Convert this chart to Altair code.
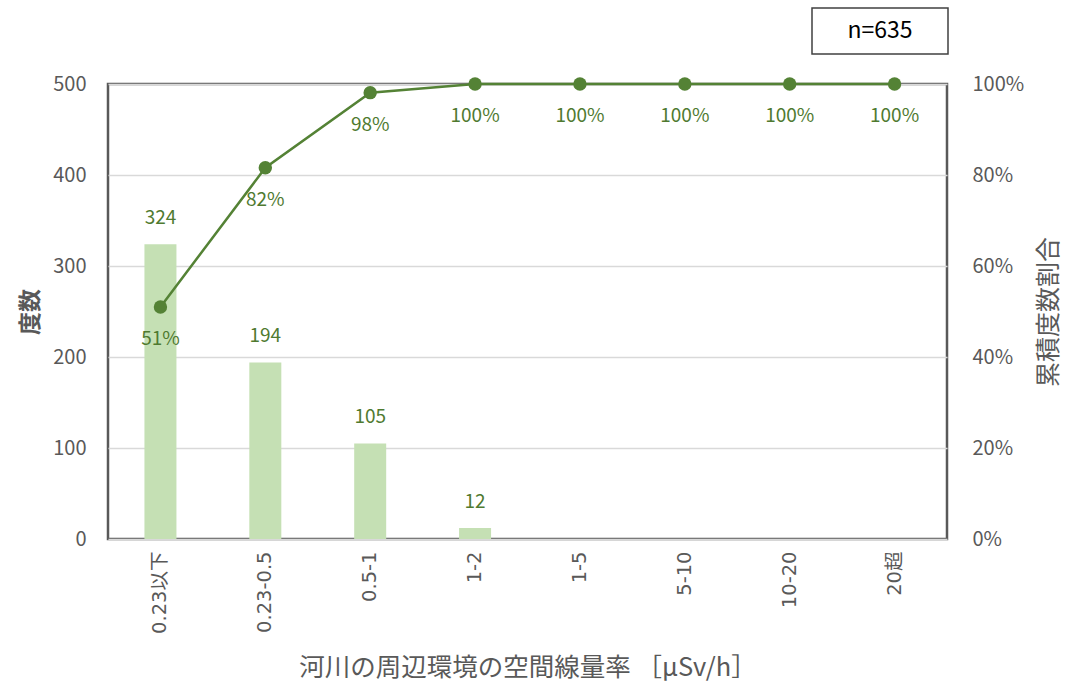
import altair as alt
import pandas as pd

categories = ["0.23以下", "0.23-0.5", "0.5-1", "1-2", "1-5", "5-10", "10-20", "20超"]
counts = [324, 194, 105, 12, 0, 0, 0, 0]
cum_share = [0.510, 0.816, 0.981, 1.0, 1.0, 1.0, 1.0, 1.0]
n_label = ["n=635"]

FONT = "Noto Sans CJK JP"
XFONT = "DejaVu Sans, Noto Sans CJK JP"
GRAY = "#595959"
GREEN = "#548235"
LABEL_GREEN = "#4f7a30"

df = pd.DataFrame({"cat": categories, "count": counts, "cum": cum_share})

xenc = alt.X(
    "cat:N",
    sort=categories,
    scale=alt.Scale(paddingInner=0, paddingOuter=0),
    axis=alt.Axis(
        title="河川の周辺環境の空間線量率 ［µSv/h］",
        labelAngle=-90,
        labelPadding=12,
        titlePadding=22,
        labelFont=XFONT,
        labelFontSize=19.5,
        titleFontSize=25.5,
        titleFontWeight="normal",
        labelColor=GRAY,
        titleColor=GRAY,
        ticks=False,
        domain=False,
        grid=False,
    ),
)

base = alt.Chart(df).encode(x=xenc)

yleft = alt.Y(
    "count:Q",
    scale=alt.Scale(domain=[0, 500]),
    axis=alt.Axis(
        title="度数",
        values=[0, 100, 200, 300, 400, 500],
        labelPadding=22,
        titlePadding=10,
        labelFontSize=20,
        titleFontSize=23,
        titleFontWeight="bold",
        labelColor=GRAY,
        titleColor=GRAY,
        ticks=False,
        domain=False,
        grid=True,
        gridColor="#d9d9d9",
        gridWidth=1.5,
    ),
)

bars = base.mark_bar(color="#c5e0b4", size=32).encode(y=yleft)
bar_text = base.transform_filter("datum.count > 0").mark_text(
    dy=-26, fontSize=19, color=LABEL_GREEN, font=FONT, baseline="middle"
).encode(y=alt.Y("count:Q"), text=alt.Text("count:Q"))

left = alt.layer(bars, bar_text)

yright = alt.Y(
    "cum:Q",
    scale=alt.Scale(domain=[0, 1]),
    axis=alt.Axis(
        title="累積度数割合",
        orient="right",
        format=".0%",
        values=[0, 0.2, 0.4, 0.6, 0.8, 1.0],
        labelPadding=25,
        titlePadding=38,
        titleAngle=270,
        labelFontSize=20,
        titleFontSize=25,
        titleFontWeight="normal",
        labelColor=GRAY,
        titleColor=GRAY,
        ticks=False,
        domain=False,
        grid=False,
    ),
)

line = base.mark_line(color=GREEN, strokeWidth=2.5).encode(y=yright)
points = base.mark_point(filled=True, color=GREEN, size=180, opacity=1).encode(y=alt.Y("cum:Q"))
line_text = base.mark_text(
    dy=32, fontSize=19, color=LABEL_GREEN, font=FONT, baseline="middle"
).encode(y=alt.Y("cum:Q"), text=alt.Text("cum:Q", format=".0%"))

right = alt.layer(line, points, line_text)

ndf = pd.DataFrame({"t": n_label})
nbox = alt.Chart(ndf).mark_rect(fill="white", stroke="#404040", strokeWidth=1.5).encode(
    x=alt.value(704), x2=alt.value(840), y=alt.value(-76), y2=alt.value(-30)
)
ntext = alt.Chart(ndf).mark_text(fontSize=23, color="#000000", font=FONT, baseline="middle").encode(
    x=alt.value(772), y=alt.value(-53), text="t:N"
)

chart = (
    alt.layer(left, right, nbox, ntext)
    .resolve_scale(y="independent")
    .properties(
        width=839,
        height=455,
        padding={"left": 108, "top": 84, "right": 120, "bottom": 150},
        autosize=alt.AutoSizeParams(type="none"),
    )
    .configure(font=FONT)
    .configure_view(stroke=GRAY, strokeWidth=2.5)
    .configure_axis(labelFont=FONT, titleFont=FONT)
)

chart.save("out.html", embed_options={"renderer": "svg", "actions": False})
